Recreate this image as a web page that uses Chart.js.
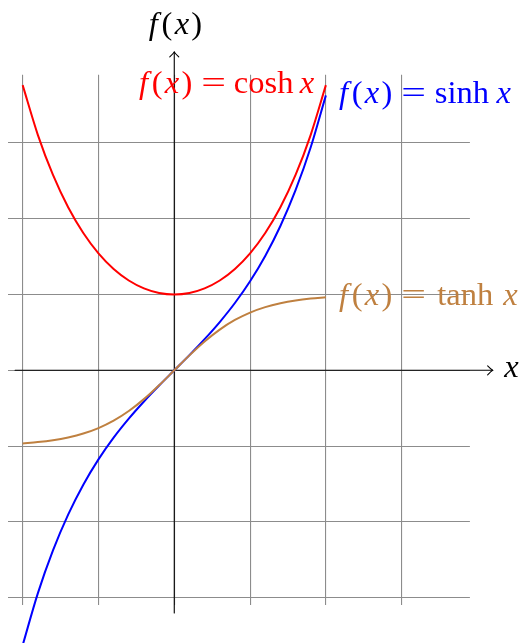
<!DOCTYPE html>
<html>
<head>
<meta charset="utf-8">
<style>
  html, body { margin: 0; padding: 0; background: #ffffff; }
  canvas { display: block; }
</style>
<script src="https://cdn.jsdelivr.net/npm/chart.js@4.4.1/dist/chart.umd.min.js"></script>
</head>
<body>
<canvas id="plot" width="528" height="643"></canvas>
<script>
// Sample positions along x and the sampled curve values
const xValues    = [-2, -1.8, -1.6, -1.4, -1.2, -1, -0.8, -0.6, -0.4, -0.2, 0,
                    0.2, 0.4, 0.6, 0.8, 1, 1.2, 1.4, 1.6, 1.8, 2];
const coshValues = [3.762, 3.107, 2.577, 2.151, 1.811, 1.543, 1.337, 1.185, 1.081, 1.020, 1.000,
                    1.020, 1.081, 1.185, 1.337, 1.543, 1.811, 2.151, 2.577, 3.107, 3.762];
const sinhValues = [-3.627, -2.942, -2.376, -1.904, -1.509, -1.175, -0.888, -0.637, -0.411, -0.201, 0,
                    0.201, 0.411, 0.637, 0.888, 1.175, 1.509, 1.904, 2.376, 2.942, 3.627];
const tanhValues = [-0.964, -0.947, -0.922, -0.885, -0.834, -0.762, -0.664, -0.537, -0.380, -0.197, 0,
                    0.197, 0.380, 0.537, 0.664, 0.762, 0.834, 0.885, 0.922, 0.947, 0.964];

// Grid positions
const gridX = [-2, -1, 0, 1, 2, 3];
const gridY = [-3, -2, -1, 0, 1, 2, 3];

const RED = '#ff0000', BLUE = '#0000ff', BROWN = '#bf8040';
const EM = 31;                          // layout em in px
const GLYPH = 32.5;                     // drawn glyph size in px
const FONT = '"Liberation Serif", "DejaVu Serif", serif';

const toPoints = ys => xValues.map((x, i) => ({ x, y: ys[i] }));

function curve(label, ys, color) {
  return {
    label, data: toPoints(ys), showLine: true,
    borderColor: color, borderWidth: 2, pointRadius: 0,
    cubicInterpolationMode: 'monotone', clip: false, fill: false
  };
}

// Tokens: [text, italic, width in em, horizontal stretch]; glyph centred inside its box
const fx = [['f', true, 0.49], ['(', false, 0.389], ['x', true, 0.572], [')', false, 0.389]];
const eq = [[' ', false, 0.278], ['=', false, 0.778, 1.35], [' ', false, 0.278]];
const thin = [' ', false, 0.167];
const labelCosh = [...fx, ...eq, ['cosh', false, 1.894], thin, ['x', true, 0.572]];
const labelSinh = [...fx, ...eq, ['sinh', false, 1.784], thin, ['x', true, 0.572]];
const labelTanh = [...fx, ...eq, ['tanh', false, 2.001], thin, ['x', true, 0.572]];
const labelX = [['x', true, 0.572]];

function tokensWidth(tokens) {
  return tokens.reduce((s, t) => s + t[2] * EM, 0);
}
function drawTokens(ctx, tokens, left, baseline, color) {
  ctx.save();
  ctx.fillStyle = color;
  ctx.textBaseline = 'alphabetic';
  ctx.textAlign = 'center';
  let cx = left;
  for (const [txt, it, w, stretch] of tokens) {
    const bw = w * EM;
    if (txt.trim()) {
      ctx.font = (it ? 'italic ' : '') + GLYPH + 'px ' + FONT;
      ctx.save();
      ctx.translate(cx + bw / 2, baseline);
      if (stretch) ctx.scale(stretch, 1);
      ctx.fillText(txt, 0, 0);
      ctx.restore();
    }
    cx += bw;
  }
  ctx.restore();
}

// Axis lines with small curved arrow tips
const axesPlugin = {
  id: 'axes',
  beforeDatasetsDraw(chart) {
    const { ctx, scales: { x, y } } = chart;
    const ox = x.getPixelForValue(0), oy = y.getPixelForValue(0);
    const x0 = x.getPixelForValue(-2.1), x1 = x.getPixelForValue(4.2);
    const y0 = y.getPixelForValue(-3.2), y1 = y.getPixelForValue(4.2);
    ctx.save();
    ctx.strokeStyle = '#000';
    ctx.lineWidth = 1.1;
    ctx.lineCap = 'round';
    ctx.beginPath();
    ctx.moveTo(x0, oy); ctx.lineTo(x1, oy);
    ctx.moveTo(ox, y0); ctx.lineTo(ox, y1);
    ctx.stroke();
    // arrow tips
    ctx.beginPath();
    ctx.moveTo(x1 - 5, oy - 4.5); ctx.quadraticCurveTo(x1 - 1.5, oy - 1, x1, oy);
    ctx.quadraticCurveTo(x1 - 1.5, oy + 1, x1 - 5, oy + 4.5);
    ctx.moveTo(ox - 4.5, y1 + 5); ctx.quadraticCurveTo(ox - 1, y1 + 1.5, ox, y1);
    ctx.quadraticCurveTo(ox + 1, y1 + 1.5, ox + 4.5, y1 + 5);
    ctx.stroke();
    ctx.restore();
  },
  afterDatasetsDraw(chart) {
    const { ctx, scales: { x, y } } = chart;
    const n = xValues.length - 1;
    const ex = x.getPixelForValue(xValues[n]);
    const sep = 10;                         // gap between curve end and its label
    const base = py => py + 0.25 * EM;      // vertically centred text box

    // cosh label sits to the left of its curve end
    const cy = y.getPixelForValue(coshValues[n]);
    drawTokens(ctx, labelCosh, ex - sep - tokensWidth(labelCosh), base(cy), RED);
    drawTokens(ctx, labelSinh, ex + sep, base(y.getPixelForValue(sinhValues[n])), BLUE);
    drawTokens(ctx, labelTanh, ex + sep, base(y.getPixelForValue(tanhValues[n])), BROWN);

    // axis names
    const oy = y.getPixelForValue(0), ox = x.getPixelForValue(0);
    drawTokens(ctx, labelX, x.getPixelForValue(4.2) + sep, oy + 0.215 * EM, '#000');
    const fxW = tokensWidth(fx);
    drawTokens(ctx, fx, ox - fxW / 2, y.getPixelForValue(4.2) - 0.333 * EM - 0.25 * EM, '#000');
  }
};

const gridStyle = { color: '#8c8c8c', lineWidth: 1.1, drawTicks: false };

new Chart(document.getElementById('plot'), {
  type: 'scatter',
  data: {
    datasets: [
      curve('tanh', tanhValues, BROWN),
      curve('sinh', sinhValues, BLUE),
      curve('cosh', coshValues, RED)
    ]
  },
  options: {
    responsive: false,
    animation: false,
    events: [],
    layout: { padding: { left: 7.5, right: 58.1, top: 74.7, bottom: 37.7 } },
    plugins: { legend: { display: false }, tooltip: { enabled: false } },
    scales: {
      x: {
        type: 'linear', min: -2.2, max: 3.9,
        ticks: { display: false },
        afterBuildTicks: s => { s.ticks = gridX.map(v => ({ value: v })); },
        grid: gridStyle,
        border: { display: false }
      },
      y: {
        type: 'linear', min: -3.1, max: 3.9,
        ticks: { display: false },
        afterBuildTicks: s => { s.ticks = gridY.map(v => ({ value: v })); },
        grid: gridStyle,
        border: { display: false }
      }
    }
  },
  plugins: [axesPlugin]
});
</script>
</body>
</html>
